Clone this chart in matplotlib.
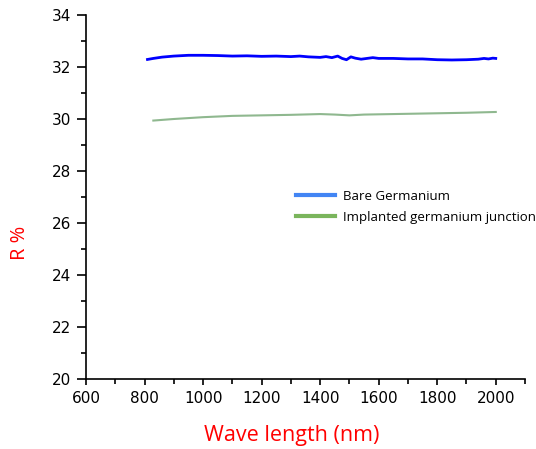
import matplotlib
matplotlib.use("Agg")
import matplotlib.pyplot as plt
from matplotlib.ticker import MultipleLocator
from matplotlib.lines import Line2D

bare_wl = [810, 830, 860, 900, 950, 1000, 1050, 1100, 1150, 1200, 1250, 1300, 1330, 1360,
           1400, 1420, 1440, 1460, 1475, 1490, 1505, 1520, 1540, 1560, 1580, 1600, 1650,
           1700, 1750, 1800, 1850, 1900, 1940, 1960, 1975, 1990, 2000]
bare_r = [32.29, 32.33, 32.38, 32.42, 32.45, 32.45, 32.44, 32.42, 32.43, 32.41, 32.42, 32.40,
          32.42, 32.39, 32.37, 32.40, 32.36, 32.42, 32.33, 32.28, 32.39, 32.34, 32.30, 32.33,
          32.36, 32.33, 32.33, 32.31, 32.31, 32.28, 32.27, 32.28, 32.30, 32.33, 32.31, 32.34, 32.33]

impl_wl = [830, 900, 1000, 1100, 1200, 1300, 1400, 1450, 1500, 1550, 1600, 1700, 1800, 1900, 2000]
impl_r = [29.94, 30.00, 30.07, 30.12, 30.14, 30.16, 30.19, 30.17, 30.14, 30.17, 30.18, 30.20,
          30.22, 30.24, 30.27]

legend_labels = ["Bare Germanium", "Implanted germanium junction"]

fig = plt.figure(figsize=(5.36, 4.49), dpi=100)
ax = fig.add_axes([0.1605, 0.1559, 0.819, 0.8107])

ax.plot(bare_wl, bare_r, color="#0000ff", lw=2.0)
ax.plot(impl_wl, impl_r, color="#8fb88f", lw=1.5)

ax.set_xlim(600, 2100)
ax.set_ylim(20, 34)
ax.set_xticks(range(600, 2001, 200))
ax.set_yticks(range(20, 35, 2))
ax.xaxis.set_minor_locator(MultipleLocator(100))
ax.yaxis.set_minor_locator(MultipleLocator(1))
for s in ["top", "right"]:
    ax.spines[s].set_visible(False)
for s in ["left", "bottom"]:
    ax.spines[s].set_linewidth(1.2)
ax.tick_params(which="major", direction="out", width=1.2,
               labelsize=11, labelfontfamily="DejaVu Sans")
ax.tick_params(axis="y", which="major", length=6.5, pad=4)
ax.tick_params(axis="x", which="major", length=4.5, pad=4)
ax.tick_params(which="minor", direction="out", length=3.5, width=1.2)

ax.set_xlabel("Wave length (nm)", color="red", fontsize=15.5, family="Open Sans")
ax.xaxis.set_label_coords(0.468, -0.125)
ax.set_ylabel("R %", color="red", fontsize=14.5, family="Open Sans")
ax.yaxis.set_label_coords(-0.128, 0.375)

handles = [Line2D([], [], color="#4285f4", lw=3), Line2D([], [], color="#7ab55c", lw=3)]
leg = ax.legend(handles, legend_labels, loc="upper left", bbox_to_anchor=(0.457, 0.545),
                frameon=False, handlelength=3.0, handletextpad=0.6, labelspacing=0.62,
                borderaxespad=0.3, prop={"family": "Open Sans", "size": 9.5})

fig.savefig("out.png", dpi=100)
